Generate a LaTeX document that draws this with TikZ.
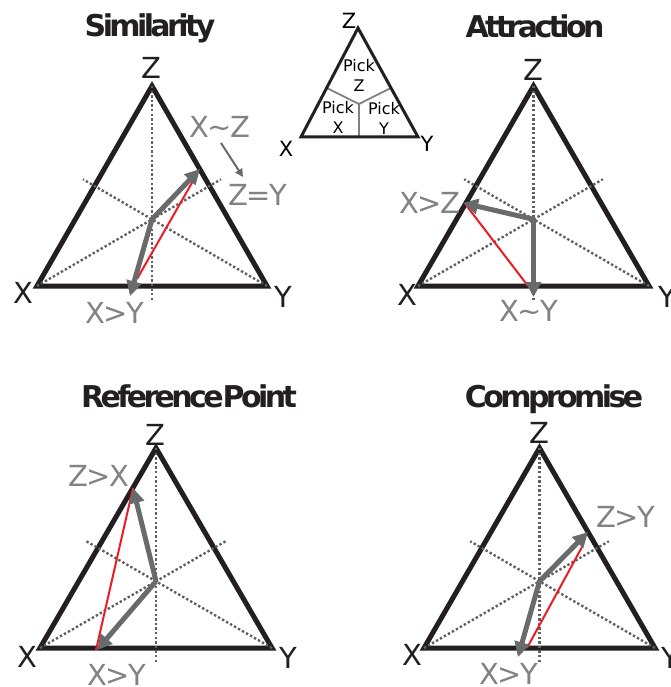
\documentclass[tikz,border=0pt]{standalone}
\usepackage{fontspec}
\setmainfont{DejaVu Sans}
\newfontfamily\labfont[LetterSpace=-6]{DejaVu Sans}
\newfontfamily\titfont[LetterSpace=-12]{DejaVu Sans}
\usetikzlibrary{arrows.meta,calc}
\definecolor{tblack}{HTML}{231F20}
\definecolor{dotgray}{HTML}{5F6062}
\definecolor{agray}{HTML}{696A6C}
\definecolor{lgray}{HTML}{808285}
\definecolor{tred}{HTML}{ED1C24}
\definecolor{sgray}{HTML}{808080}
\tikzset{
  tri/.style={draw=tblack, line width=5pt, line join=miter},
  stri/.style={draw=tblack, line width=3pt, line join=miter},
  sline/.style={draw=sgray, line width=1.8pt},
  dots/.style={draw=dotgray, line width=2.4pt, dash pattern=on 2.4pt off 2.2pt},
  redl/.style={draw=tred, line width=2pt},
  garrow/.style={draw=agray, line width=5pt, -{Triangle[length=15pt,width=15pt]}},
  sarrow/.style={draw=agray, line width=2pt, -{Triangle[length=8pt,width=8pt]}},
  vlab/.style={font=\labfont\fontsize{29}{30}\selectfont, text=tblack, inner sep=0pt},
  glab/.style={vlab, text=lgray},
  ttl/.style={font=\titfont\bfseries\fontsize{30}{32}\selectfont, text=tblack, anchor=base, inner sep=0pt},
  pick/.style={font=\fontsize{16}{20}\selectfont, text=black, align=center, inner sep=0pt},
  slab/.style={font=\fontsize{21}{22}\selectfont, text=black, inner sep=0pt}
}
\begin{document}
\begin{tikzpicture}[x=1pt,y=-1pt]
\useasboundingbox (0,0) rectangle (670,687);

% ---------- titles
\node[ttl] (t1) at (150,37) {Similarity};
\node[ttl] (t2) at (535,38) {Attraction};
\node[ttl] (t3) at (189,407) {Reference\hspace{-1pt}Point};
\node[ttl] (t4) at (554,407) {Compromise};

% ---------- small legend triangle
\coordinate (sX) at (301,137);
\coordinate (sY) at (418,137);
\coordinate (sZ) at (358,28);
\coordinate (sC) at (359,104);
\coordinate (sL) at ($(sX)!0.45!(sZ)$);
\coordinate (sR) at ($(sY)!0.45!(sZ)$);
\coordinate (sB) at (359,137);
\draw[sline] (sC) -- (sL);
\draw[sline] (sC) -- (sR);
\draw[sline] (sC) -- (sB);
\draw[stri] (sX) -- (sY) -- (sZ) -- cycle;
\node[pick] (pz) at (359,75) {Pick\\Z};
\node[pick] (px) at (338,117) {Pick\\X};
\node[pick] (py) at (384,118) {Pick\\Y};
\node[slab] (slz) at (349,21) {Z};
\node[slab] (slx) at (286,149) {X};
\node[slab] (sly) at (427,144) {Y};

% ---------- panel 1: Similarity
\begin{scope}[shift={(37,286)}]
\coordinate (aX) at (0,0);
\coordinate (aY) at (230,0);
\coordinate (aZ) at (115,-200);
\coordinate (aC) at (115,-66.7);
\draw[tri] (aX) -- (aY) -- (aZ) -- cycle;
\draw[dots] (aZ) -- ($(aZ)!1.62!(aC)$);
\draw[dots] (aX) -- ($(aX)!1.6!(aC)$);
\draw[dots] (aY) -- ($(aY)!1.6!(aC)$);
\coordinate (aR1) at (100,-7);
\coordinate (aR2) at (156,-105);
\draw[redl] (aR1) -- (aR2);
\coordinate (aU) at (163,-117);
\coordinate (aD) at (93,10);
\draw[garrow] (aC) -- (aU);
\draw[garrow] (aC) -- (aD);
\node[vlab] (aLZ) at (114,-218) {Z};
\node[vlab] (aLX) at (-14,7) {X};
\node[vlab] (aLY) at (246,11) {Y};
\node[glab] (aL1) at (183,-159) {X\textasciitilde Z};
\node[glab] (aL2) at (221,-91) {Z=Y};
\node[glab] (aL3) at (78,27) {X>Y};
\coordinate (aS1) at (184,-143);
\coordinate (aS2) at (206,-109);
\draw[sarrow] (aS1) -- (aS2);
\end{scope}

% ---------- panel 2: Attraction
\begin{scope}[shift={(418,286)}]
\coordinate (bX) at (0,0);
\coordinate (bY) at (231,0);
\coordinate (bZ) at (115.5,-200);
\coordinate (bC) at (115.5,-66.7);
\draw[tri] (bX) -- (bY) -- (bZ) -- cycle;
\draw[dots] (bZ) -- ($(bZ)!1.62!(bC)$);
\draw[dots] (bX) -- ($(bX)!1.6!(bC)$);
\draw[dots] (bY) -- ($(bY)!1.6!(bC)$);
\coordinate (bR1) at (110,0);
\coordinate (bR2) at (48,-81);
\draw[redl] (bR1) -- (bR2);
\coordinate (bU) at (45,-83);
\coordinate (bD) at (115.5,11);
\draw[garrow] (bC) -- (bU);
\draw[garrow] (bC) -- (bD);
\node[vlab] (bLZ) at (115,-216) {Z};
\node[vlab] (bLX) at (-11,9) {X};
\node[vlab] (bLY) at (249,11) {Y};
\node[glab] (bL1) at (12,-83) {X>Z};
\node[glab] (bL2) at (111,25) {X\textasciitilde Y};
\end{scope}

% ---------- panel 3: Reference Point
\begin{scope}[shift={(40,648)}]
\coordinate (cX) at (0,0);
\coordinate (cY) at (232,0);
\coordinate (cZ) at (116,-200);
\coordinate (cC) at (116,-66.7);
\draw[tri] (cX) -- (cY) -- (cZ) -- cycle;
\draw[dots] (cZ) -- ($(cZ)!1.62!(cC)$);
\draw[dots] (cX) -- ($(cX)!1.6!(cC)$);
\draw[dots] (cY) -- ($(cY)!1.6!(cC)$);
\coordinate (cR1) at (56,2);
\coordinate (cR2) at (93,-160);
\draw[redl] (cR1) -- (cR2);
\coordinate (cU) at (93,-160);
\coordinate (cD) at (57,2);
\draw[garrow] (cC) -- (cU);
\draw[garrow] (cC) -- (cD);
\node[vlab] (cLZ) at (115,-213) {Z};
\node[vlab] (cLX) at (-13,9) {X};
\node[vlab] (cLY) at (248,10) {Y};
\node[glab] (cL1) at (59,-172) {Z>X};
\node[glab] (cL2) at (77,27) {X>Y};
\end{scope}

% ---------- panel 4: Compromise
\begin{scope}[shift={(424,648)}]
\coordinate (dX) at (0,0);
\coordinate (dY) at (231,0);
\coordinate (dZ) at (115.5,-200);
\coordinate (dC) at (115.5,-66.7);
\draw[tri] (dX) -- (dY) -- (dZ) -- cycle;
\draw[dots] (dZ) -- ($(dZ)!1.62!(dC)$);
\draw[dots] (dX) -- ($(dX)!1.6!(dC)$);
\draw[dots] (dY) -- ($(dY)!1.6!(dC)$);
\coordinate (dR1) at (103,0);
\coordinate (dR2) at (158,-101);
\draw[redl] (dR1) -- (dR2);
\coordinate (dU) at (164,-116);
\coordinate (dD) at (94,9);
\draw[garrow] (dC) -- (dU);
\draw[garrow] (dC) -- (dD);
\node[vlab] (dLZ) at (115,-215) {Z};
\node[vlab] (dLX) at (-12,7) {X};
\node[vlab] (dLY) at (246,10) {Y};
\node[glab] (dL1) at (202,-131) {Z>Y};
\node[glab] (dL2) at (85,26) {X>Y};
\end{scope}
\end{tikzpicture}
\end{document}
